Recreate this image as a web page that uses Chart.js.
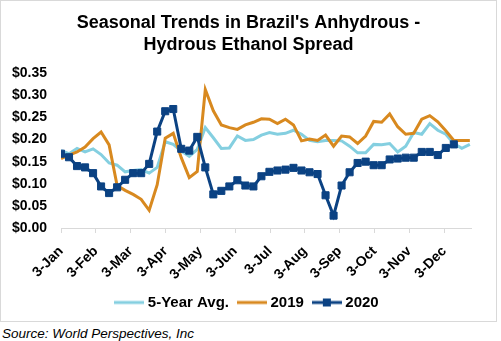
<!DOCTYPE html>
<html>
<head>
<meta charset="utf-8">
<script src="https://cdn.jsdelivr.net/npm/chart.js@4"></script>
<style>
  body { margin: 0; background: #fff; }
  #wrap { position: absolute; left: 0; top: 0; width: 495px; height: 320px; border: 1px solid #d9d9d9; }
  #src { position: absolute; left: 2px; top: 326px; font: italic 13.5px 'Liberation Sans', Arial, sans-serif; color: #000; }
</style>
</head>
<body>
<div id="wrap"><canvas id="chart" width="495" height="320"></canvas></div>
<div id="src">Source: World Perspectives, Inc</div>
<script>
const monthLabels = ['3-Jan', '3-Feb', '3-Mar', '3-Apr', '3-May', '3-Jun', '3-Jul', '3-Aug', '3-Sep', '3-Oct', '3-Nov', '3-Dec'];
const yTicks = [0, 0.05, 0.1, 0.15, 0.2, 0.25, 0.3, 0.35];

// weekly values, first week = 3-Jan
const avg5 = [0.175, 0.168, 0.180, 0.172, 0.179, 0.166, 0.147, 0.142, 0.127, 0.130, 0.132, 0.124, 0.137,
    0.195, 0.189, 0.174, 0.162, 0.178, 0.227, 0.204, 0.180, 0.181, 0.208, 0.198, 0.200, 0.210,
    0.216, 0.212, 0.214, 0.221, 0.212, 0.198, 0.195, 0.198, 0.198, 0.197, 0.185, 0.170, 0.170,
    0.189, 0.188, 0.191, 0.172, 0.185, 0.216, 0.212, 0.236, 0.221, 0.212, 0.191, 0.180, 0.189];
const y2019 = [0.157, 0.165, 0.172, 0.183, 0.202, 0.217, 0.188, 0.096, 0.085, 0.076, 0.065, 0.040, 0.098,
    0.203, 0.214, 0.159, 0.114, 0.128, 0.313, 0.265, 0.233, 0.227, 0.223, 0.233, 0.239, 0.247,
    0.246, 0.236, 0.246, 0.233, 0.197, 0.201, 0.198, 0.210, 0.185, 0.208, 0.206, 0.191, 0.208,
    0.241, 0.239, 0.258, 0.229, 0.212, 0.214, 0.246, 0.254, 0.240, 0.220, 0.198, 0.198, 0.198];
const y2020 = [0.168, 0.160, 0.140, 0.137, 0.124, 0.094, 0.079, 0.092, 0.109, 0.124, 0.124, 0.145, 0.218,
    0.264, 0.269, 0.179, 0.175, 0.206, 0.137, 0.076, 0.084, 0.094, 0.108, 0.096, 0.094, 0.117,
    0.127, 0.130, 0.132, 0.136, 0.130, 0.126, 0.122, 0.074, 0.028, 0.096, 0.126, 0.147, 0.150,
    0.142, 0.142, 0.155, 0.157, 0.159, 0.159, 0.172, 0.172, 0.165, 0.181, 0.189];

const colors = { avg: '#84cfe0', y19: '#d8891f', y20: '#0b4283' };
const FONT = "'Liberation Sans', Arial, sans-serif";

const toPoints = (arr) => arr.map((v, i) => ({ x: i * 7, y: v }));

// legend sample: 30px line, optional square marker
const legendSwatch = (color, marker) => {
    const c = document.createElement('canvas');
    c.width = 30;
    c.height = 12;
    const ctx = c.getContext('2d');
    ctx.strokeStyle = color;
    ctx.lineWidth = 3;
    ctx.beginPath();
    ctx.moveTo(0, 6);
    ctx.lineTo(30, 6);
    ctx.stroke();
    if (marker) {
        ctx.fillStyle = color;
        ctx.fillRect(11, 2, 8, 8);
    }
    return c;
};

const datasets = [
    { label: '5-Year Avg.', data: toPoints(avg5), borderColor: colors.avg, backgroundColor: colors.avg,
      borderWidth: 3, pointRadius: 0, order: 3, swatch: legendSwatch(colors.avg, false) },
    { label: '2019', data: toPoints(y2019), borderColor: colors.y19, backgroundColor: colors.y19,
      borderWidth: 3, pointRadius: 0, order: 2, swatch: legendSwatch(colors.y19, false) },
    { label: '2020', data: toPoints(y2020), borderColor: colors.y20, backgroundColor: colors.y20,
      borderWidth: 3, pointStyle: 'rect', pointRadius: 5, pointBorderWidth: 1, order: 1,
      swatch: legendSwatch(colors.y20, true) },
];

new Chart(document.getElementById('chart'), {
    type: 'line',
    data: { datasets },
    options: {
        responsive: false,
        devicePixelRatio: 1,
        animation: false,
        layout: { padding: { bottom: 1 } },
        plugins: {
            tooltip: { enabled: false },
            title: {
                display: true,
                text: ["Seasonal Trends in Brazil's Anhydrous -", 'Hydrous Ethanol Spread'],
                color: '#000',
                font: { family: FONT, size: 18, weight: 'bold', lineHeight: 1.2 },
                padding: { top: 11.5, bottom: 17.5 },
            },
            legend: {
                position: 'bottom',
                labels: {
                    color: '#000',
                    font: { family: FONT, size: 15, weight: 'bold' },
                    usePointStyle: true,
                    pointStyleWidth: 22,
                    padding: 12,
                    generateLabels: (chart) => chart.data.datasets.map((ds, i) => ({
                        text: ds.label,
                        datasetIndex: i,
                        pointStyle: ds.swatch,
                        fillStyle: ds.borderColor,
                        strokeStyle: ds.borderColor,
                        lineWidth: 0,
                        fontColor: '#000',
                    })),
                },
            },
        },
        scales: {
            x: {
                type: 'linear',
                min: 0,
                max: 358,
                afterBuildTicks: (axis) => {
                    axis.ticks = monthLabels.map((_, k) => ({ value: k * 365 / 12 }));
                },
                afterFit: (axis) => {
                    axis.height = 55;
                    axis.paddingRight = 25;
                },
                ticks: {
                    autoSkip: false,
                    maxRotation: 45,
                    minRotation: 45,
                    padding: 10,
                    color: '#000',
                    font: { family: FONT, size: 14, weight: 'bold' },
                    callback: (v, i) => monthLabels[i],
                },
                grid: { drawOnChartArea: false, drawTicks: true, tickLength: 5, color: '#d9d9d9' },
                border: { color: '#d9d9d9', width: 1 },
            },
            y: {
                min: 0,
                max: 0.35,
                afterBuildTicks: (axis) => {
                    axis.ticks = yTicks.map((v) => ({ value: v }));
                },
                afterFit: (axis) => { axis.width = 60; },
                ticks: {
                    padding: 14,
                    color: '#000',
                    font: { family: FONT, size: 14, weight: 'bold' },
                    callback: (v) => '$' + v.toFixed(2),
                },
                grid: { display: false, drawTicks: false },
                border: { display: false },
            },
        },
    },
});
</script>
</body>
</html>
